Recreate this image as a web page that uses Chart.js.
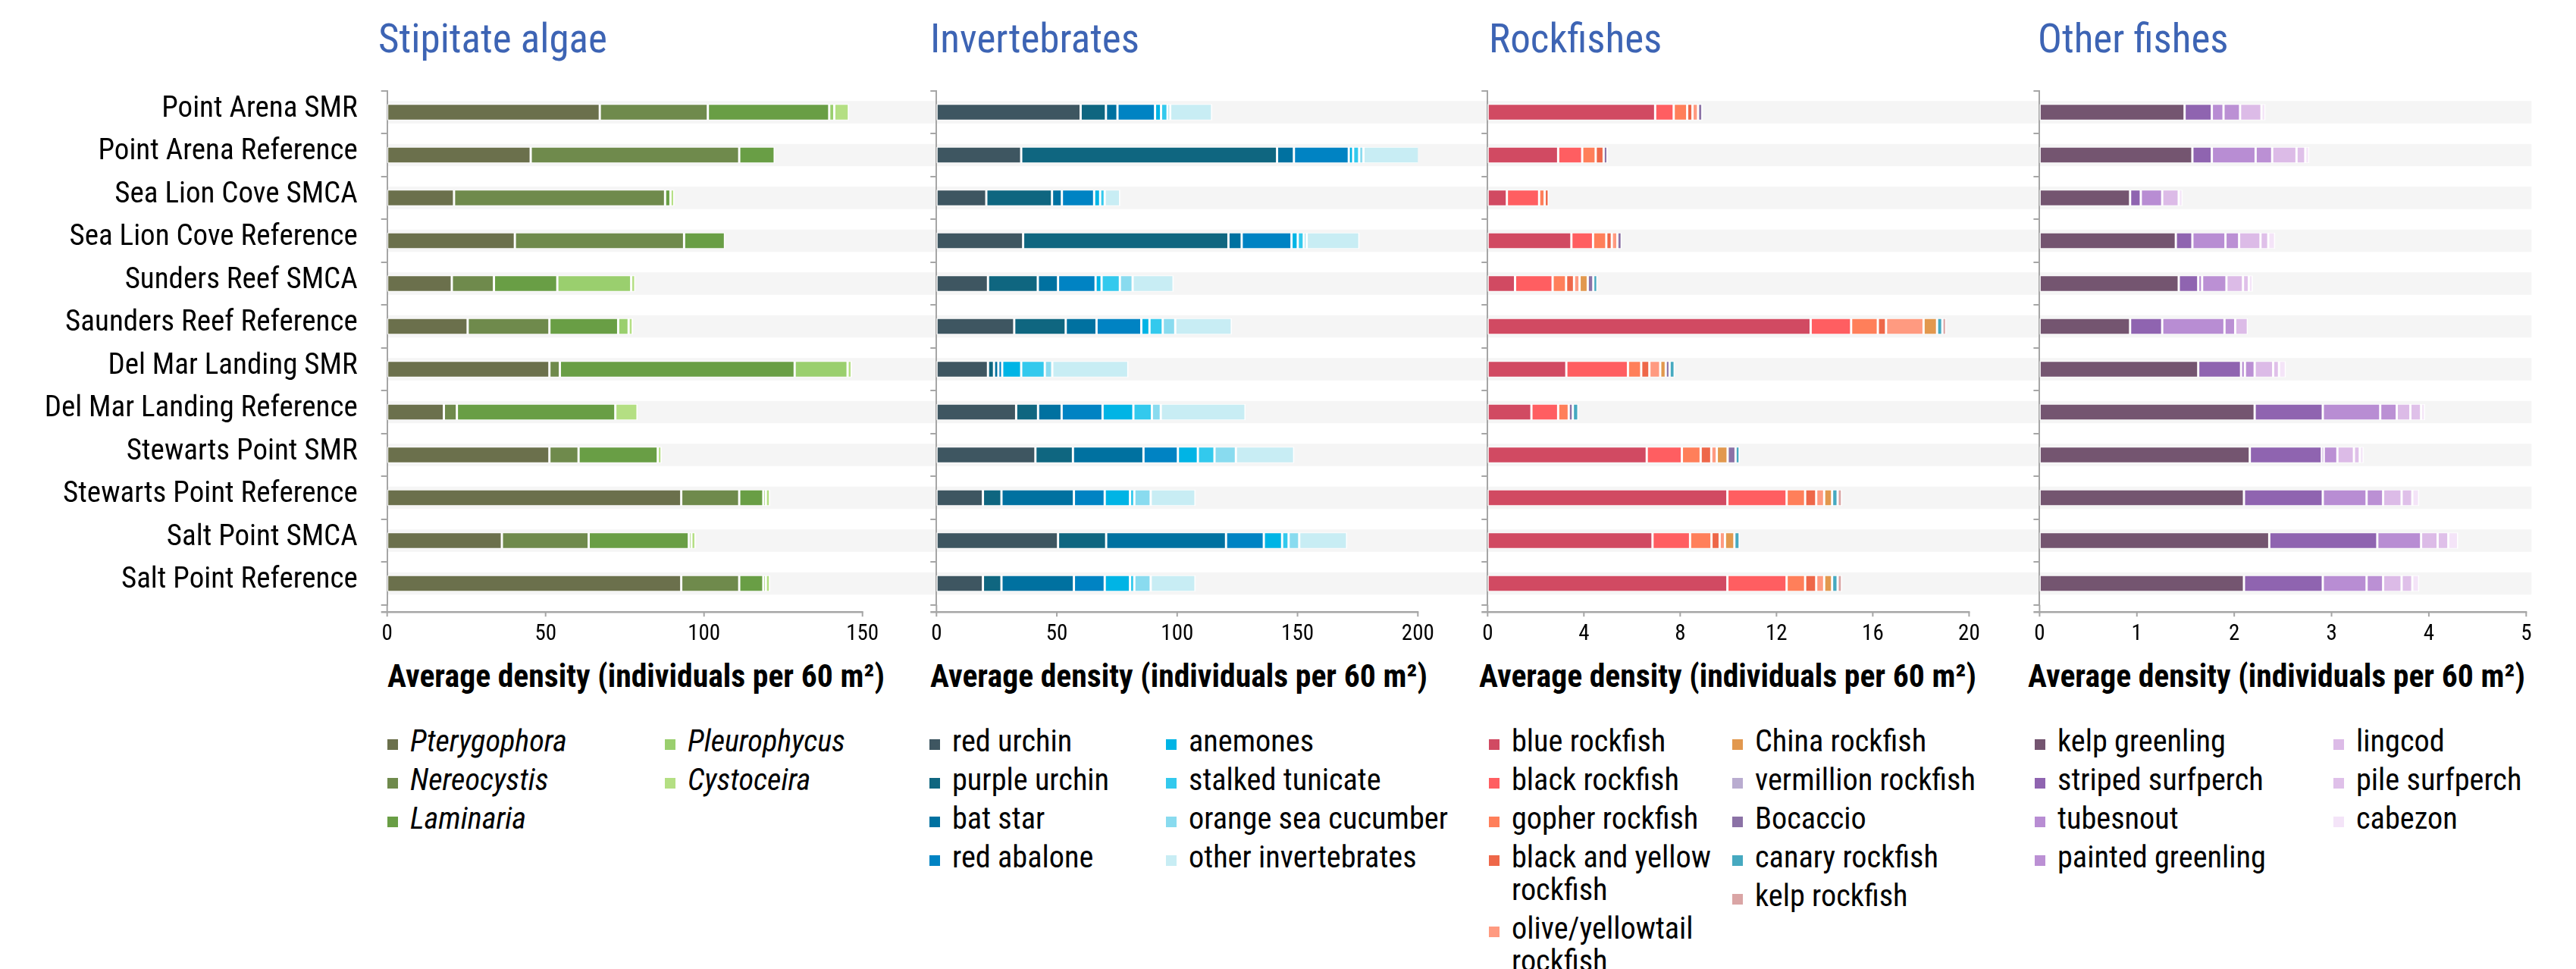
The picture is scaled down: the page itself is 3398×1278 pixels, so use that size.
<!DOCTYPE html>
<html>
<head>
<meta charset="utf-8">
<script src="https://cdn.jsdelivr.net/npm/chart.js@4.4.1/dist/chart.umd.min.js"></script>
<style>
  html, body { margin: 0; padding: 0; background: #fff; }
  body { width: 3398px; height: 1278px; position: relative; overflow: hidden;
         font-family: "Roboto Condensed", "Liberation Sans", sans-serif; color: #000; }
  canvas { position: absolute; top: 0; }
  .ptitle { position: absolute; line-height: 1; color: #3d64b4; white-space: nowrap; }
  .xtitle { position: absolute; width: 800px; text-align: center; font-weight: bold;
            line-height: 1; white-space: nowrap; }
  .legcol { position: absolute; top: 956px; }
  .item { display: flex; align-items: flex-start; line-height: 43px; margin-bottom: 8px; }
  .sw { width: 14px; height: 14px; margin-top: 19px; margin-right: 16px; flex: none; }
  .it { font-style: italic; }
</style>
</head>
<body>
<div class="ptitle" style="left:499px">Stipitate algae</div>
<div class="ptitle" style="left:1227px">Invertebrates</div>
<div class="ptitle" style="left:1964px">Rockfishes</div>
<div class="ptitle" style="left:2688px">Other fishes</div>

<canvas id="c1" width="1190" height="860" style="left:0px"></canvas>
<canvas id="c2" width="725" height="860" style="left:1190px"></canvas>
<canvas id="c3" width="725" height="860" style="left:1915px"></canvas>
<canvas id="c4" width="758" height="860" style="left:2640px"></canvas>

<div class="xtitle" style="left:439px">Average density (individuals per 60 m²)</div>
<div class="xtitle" style="left:1155px">Average density (individuals per 60 m²)</div>
<div class="xtitle" style="left:1879px">Average density (individuals per 60 m²)</div>
<div class="xtitle" style="left:2603px">Average density (individuals per 60 m²)</div>

<div id="legends"></div>

<script>
// --- Sites ---
const sites = [
  "Point Arena SMR", "Point Arena Reference", "Sea Lion Cove SMCA", "Sea Lion Cove Reference",
  "Sunders Reef SMCA", "Saunders Reef Reference", "Del Mar Landing SMR", "Del Mar Landing Reference",
  "Stewarts Point SMR", "Stewarts Point Reference", "Salt Point SMCA", "Salt Point Reference"
];

// --- Stipitate algae ---
const algaeNames = ["Pterygophora", "Nereocystis", "Laminaria", "Pleurophycus", "Cystoceira"];
const pterygophora = [67.1, 45.3, 21.1, 40.3, 20.4, 25.4, 51.2, 17.9, 51.2, 92.8, 36.2, 92.8];
const nereocystis  = [34.1, 65.8, 66.6, 53.4, 13.3, 25.8, 3.3, 4.1, 9.2, 18.3, 27.4, 18.3];
const laminaria    = [38.3, 11.2, 1.7, 12.9, 20.0, 21.7, 74.1, 50.0, 25.0, 7.6, 31.6, 7.6];
const pleurophycus = [1.6, 0, 0, 0, 23.3, 3.3, 16.7, 0, 0, 0.8, 0.8, 0.8];
const cystoceira   = [4.6, 0, 1.2, 0, 1.3, 1.3, 1.3, 7.0, 1.2, 1.3, 1.3, 1.3];

// --- Invertebrates ---
const invertNames = ["red urchin", "purple urchin", "bat star", "red abalone",
  "anemones", "stalked tunicate", "orange sea cucumber", "other invertebrates"];
const redUrchin    = [59.9, 35.2, 20.7, 36.0, 21.4, 32.3, 21.4, 33.1, 41.1, 19.3, 50.5, 19.3];
const purpleUrchin = [10.5, 106.3, 27.3, 85.3, 20.7, 21.4, 2.5, 9.1, 15.6, 7.7, 20.0, 7.7];
const batStar      = [4.8, 7.0, 4.1, 5.5, 8.4, 12.8, 1.8, 9.8, 29.3, 30.1, 49.8, 30.1];
const redAbalone   = [15.6, 22.8, 13.4, 20.7, 15.6, 18.6, 1.6, 17.0, 14.3, 12.8, 15.7, 12.8];
const anemones     = [2.5, 1.8, 2.5, 2.6, 2.5, 3.4, 7.9, 12.8, 8.3, 10.5, 7.6, 10.5];
const stalkedTunicate = [2.7, 2.5, 1.9, 2.5, 7.6, 5.5, 9.8, 7.7, 6.9, 1.8, 2.7, 1.8];
const seaCucumber  = [1.1, 1.8, 0, 1.2, 5.3, 5.2, 3.1, 3.7, 8.9, 6.8, 4.4, 6.8];
const otherInvert  = [17.4, 23.5, 6.4, 21.9, 17.0, 23.5, 31.6, 35.2, 24.2, 18.6, 19.9, 18.6];

// --- Rockfishes ---
const rockNames = ["blue rockfish", "black rockfish", "gopher rockfish", "black and yellow rockfish",
  "olive/yellowtail rockfish", "China rockfish", "vermillion rockfish", "Bocaccio", "canary rockfish", "kelp rockfish"];
const blueRock     = [6.96, 2.93, 0.80, 3.48, 1.14, 13.42, 3.27, 1.82, 6.61, 9.96, 6.85, 9.96];
const blackRock    = [0.77, 1.00, 1.34, 0.90, 1.56, 1.68, 2.56, 1.11, 1.46, 2.46, 1.56, 2.46];
const gopherRock   = [0.56, 0.56, 0.23, 0.55, 0.56, 1.11, 0.55, 0.44, 0.78, 0.77, 0.89, 0.77];
const blackYellow  = [0.22, 0.33, 0.17, 0.23, 0.33, 0.34, 0.34, 0, 0.44, 0.46, 0.34, 0.46];
const oliveYellow  = [0.23, 0, 0, 0.23, 0.23, 1.56, 0.45, 0, 0.23, 0.33, 0.22, 0.33];
const chinaRock    = [0, 0, 0, 0, 0.34, 0.56, 0.23, 0, 0.45, 0.33, 0.39, 0.33];
const vermillion   = [0, 0, 0, 0, 0, 0, 0, 0, 0, 0, 0, 0];
const bocaccio     = [0.18, 0.16, 0, 0.18, 0.23, 0, 0.16, 0.17, 0.33, 0, 0, 0];
const canaryRock   = [0, 0, 0, 0, 0.17, 0.22, 0.21, 0.23, 0.17, 0.23, 0.22, 0.23];
const kelpRock     = [0, 0, 0, 0, 0, 0.16, 0, 0, 0, 0.18, 0, 0.18];

// --- Other fishes ---
const fishNames = ["kelp greenling", "striped surfperch", "tubesnout", "painted greenling",
  "lingcod", "pile surfperch", "cabezon"];
const kelpGreenling = [1.49, 1.57, 0.93, 1.40, 1.43, 0.93, 1.63, 2.21, 2.16, 2.10, 2.36, 2.10];
const stripedPerch  = [0.28, 0.20, 0.11, 0.17, 0.20, 0.33, 0.44, 0.70, 0.74, 0.81, 1.11, 0.81];
const tubesnout     = [0.12, 0.45, 0.22, 0.34, 0.04, 0.64, 0.04, 0.59, 0.02, 0.45, 0.45, 0.45];
const paintedGreen  = [0.17, 0.17, 0, 0.14, 0.25, 0.11, 0.10, 0.17, 0.14, 0.17, 0, 0.17];
const lingcod       = [0.22, 0.25, 0.17, 0.22, 0.17, 0.13, 0.19, 0.14, 0.17, 0.19, 0.17, 0.19];
const pilePerch     = [0, 0.09, 0, 0.08, 0.06, 0, 0.06, 0.11, 0.06, 0.11, 0.11, 0.11];
const cabezon       = [0.04, 0.04, 0.04, 0.07, 0.04, 0, 0.07, 0.04, 0.04, 0.07, 0.10, 0.07];

// --- Colores ---
const algaeColors = ["#6b704c", "#6f8a4c", "#699e45", "#9acf6e", "#b4df83"];
const invertColors = ["#3e5661", "#0f6680", "#0071a0", "#0083c3", "#00b4e5", "#33c9ed", "#89dbef", "#c8edf4"];
const rockColors = ["#d14a62", "#ff5e61", "#ff7f5a", "#ee6749", "#ff9a80", "#e2984e", "#b9acd0", "#8b72a6", "#46a9c0", "#daa5a5"];
const fishColors = ["#745570", "#8f64b0", "#b88dd3", "#bb90d4", "#dcbbe7", "#dfc0e9", "#f4e4f8"];

const FONT = "'Roboto Condensed', 'Liberation Sans', sans-serif";
const AXIS_GREY = "#a6a6a6";

// --- Tamaños de letra ajustados al ancho medido en la referencia ---
const meas = document.createElement("canvas").getContext("2d");
function ajustarTam(texto, ancho, peso = "normal") {
  meas.font = `normal ${peso} 100px ${FONT}`;
  return 100 * ancho / meas.measureText(texto).width;
}
const yLabelSize = ajustarTam("Sea Lion Cove SMCASunders Reef SMCAPoint Arena Reference", 970);
const tickSize = ajustarTam("150", 43);
const titleSize = ajustarTam("Stipitate algae", 302);
const xTitleSize = ajustarTam("Average density (individuals per 60 m²)", 656, "bold");
const legendSize = ajustarTam("orange sea cucumber", 342);

document.querySelectorAll(".ptitle").forEach(el => {
  el.style.fontSize = titleSize + "px";
  el.style.top = (70 - 0.842 * titleSize) + "px";
});
document.querySelectorAll(".xtitle").forEach(el => {
  el.style.fontSize = xTitleSize + "px";
  el.style.top = (906 - 0.842 * xTitleSize) + "px";
});

// --- Paneles ---
const panels = [
  { id: "c1", names: algaeNames, colors: algaeColors, italic: true,
    series: [pterygophora, nereocystis, laminaria, pleurophycus, cystoceira],
    max: 150, step: 50, yWidth: 510.7, padRight: 52.3, showLabels: true,
    bandFromEdge: false, bandToEdge: true, legendCols: [511, 877] },
  { id: "c2", names: invertNames, colors: invertColors,
    series: [redUrchin, purpleUrchin, batStar, redAbalone, anemones, stalkedTunicate, seaCucumber, otherInvert],
    max: 200, step: 50, yWidth: 45.3, padRight: 44.7, showLabels: false,
    bandFromEdge: true, bandToEdge: true, legendCols: [1226, 1538] },
  { id: "c3", names: rockNames, colors: rockColors,
    series: [blueRock, blackRock, gopherRock, blackYellow, oliveYellow, chinaRock, vermillion, bocaccio, canaryRock, kelpRock],
    max: 20, step: 4, yWidth: 47.3, padRight: 42.6, showLabels: false,
    bandFromEdge: true, bandToEdge: true, legendCols: [1964, 2285] },
  { id: "c4", names: fishNames, colors: fishColors,
    series: [kelpGreenling, stripedPerch, tubesnout, paintedGreen, lingcod, pilePerch, cabezon],
    max: 5, step: 1, yWidth: 50.4, padRight: 65.7, showLabels: false,
    bandFromEdge: true, bandToEdge: false, legendCols: [2684, 3078] }
];

// --- Franjas grises detrás de cada fila ---
const bandsPlugin = {
  id: "bands",
  beforeDraw(chart, args, opts) {
    const { ctx, chartArea } = chart;
    const y = chart.scales.y;
    const x0 = opts.fromEdge ? 0 : chartArea.left;
    const x1 = opts.toEdge ? chart.width : chartArea.right + 7;
    ctx.save();
    ctx.fillStyle = "#f5f5f5";
    sites.forEach((s, i) => {
      const py = y.getPixelForValue(i);
      ctx.fillRect(x0, py - 14.75, x1 - x0, 29.5);
    });
    ctx.restore();
  }
};

// --- Eje X dibujado un poco por debajo del área ---
const axisPlugin = {
  id: "axisLine",
  afterDraw(chart) {
    const { ctx, chartArea } = chart;
    const x = chart.scales.x;
    const ya = chartArea.bottom + 9.5;
    ctx.save();
    ctx.strokeStyle = AXIS_GREY;
    ctx.lineWidth = 2;
    ctx.beginPath();
    ctx.moveTo(chartArea.left, chartArea.bottom);
    ctx.lineTo(chartArea.left, ya);
    ctx.stroke();
    ctx.lineWidth = 2.5;
    ctx.beginPath();
    ctx.moveTo(chartArea.left - 8, ya);
    ctx.lineTo(chartArea.right + 1, ya);
    ctx.stroke();
    ctx.lineWidth = 2;
    x.ticks.forEach(t => {
      const px = x.getPixelForValue(t.value);
      ctx.beginPath();
      ctx.moveTo(px, ya);
      ctx.lineTo(px, ya + 6);
      ctx.stroke();
    });
    ctx.restore();
  }
};

function crearGrafico(p) {
  const datasets = p.series.map((vals, i) => ({
    label: p.names[i],
    data: vals,
    backgroundColor: p.colors[i],
    borderColor: "rgba(255,255,255,0.85)",
    borderWidth: { left: 1.8, right: 1.8, top: 1, bottom: 1 },
    borderSkipped: false,
    barThickness: 21
  }));

  return new Chart(document.getElementById(p.id), {
    type: "bar",
    data: { labels: sites, datasets },
    options: {
      indexAxis: "y",
      responsive: false,
      animation: false,
      devicePixelRatio: 1,
      layout: { padding: { left: 0, right: p.padRight, top: 119.75, bottom: 2.25 } },
      plugins: {
        legend: { display: false },
        tooltip: { enabled: false },
        bands: { fromEdge: p.bandFromEdge, toEdge: p.bandToEdge }
      },
      scales: {
        x: {
          stacked: true, min: 0, max: p.max,
          ticks: { stepSize: p.step, color: "#000", padding: 837 - 797.75 - 0.6 * tickSize,
                   font: { family: FONT, size: tickSize } },
          grid: { display: false, drawTicks: false },
          border: { display: false },
          afterFit: s => { s.height = 60; }
        },
        y: {
          stacked: true,
          ticks: { display: p.showLabels, color: "#000", padding: 31, labelOffset: -4,
                   font: { family: FONT, size: yLabelSize } },
          grid: { display: true, drawOnChartArea: false, tickLength: 8, color: AXIS_GREY, lineWidth: 2 },
          border: { display: true, color: AXIS_GREY, width: 2 },
          afterFit: s => { s.width = p.yWidth; }
        }
      }
    },
    plugins: [bandsPlugin, axisPlugin]
  });
}

// --- Leyendas en dos columnas ---
function crearLeyenda(p) {
  const cont = document.getElementById("legends");
  const half = Math.ceil(p.names.length / 2);
  [p.names.slice(0, half), p.names.slice(half)].forEach((names, c) => {
    const col = document.createElement("div");
    col.className = "legcol";
    col.style.left = p.legendCols[c] + "px";
    col.style.width = (c === 0 ? p.legendCols[1] - p.legendCols[0] - 8 : 420) + "px";
    col.style.fontSize = legendSize + "px";
    names.forEach((n, k) => {
      const idx = c * half + k;
      col.innerHTML += `<div class="item"><span class="sw" style="background:${p.colors[idx]}"></span>` +
        `<span class="${p.italic ? "it" : ""}">${n}</span></div>`;
    });
    cont.appendChild(col);
  });
}

panels.forEach(p => {
  crearGrafico(p);
  crearLeyenda(p);
});
</script>
</body>
</html>
